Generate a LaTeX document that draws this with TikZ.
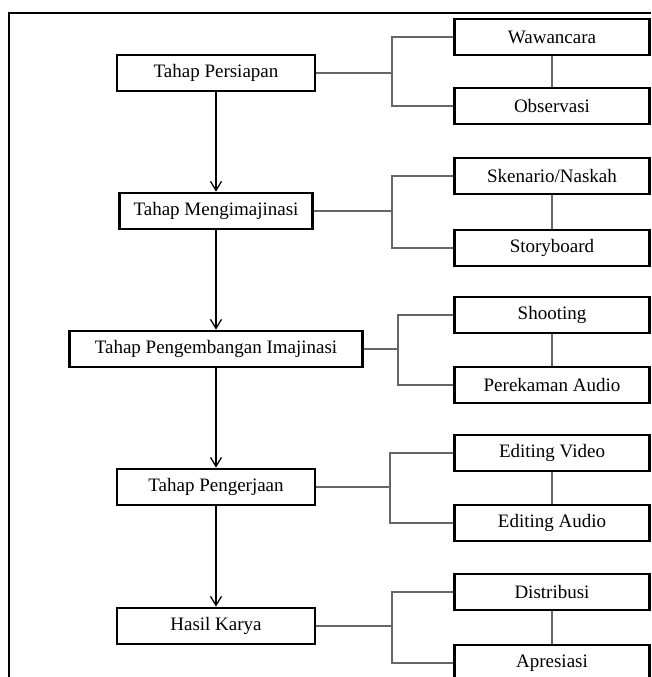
\documentclass[tikz,border=0pt]{standalone}
\usepackage{fontspec}
\setmainfont{Liberation Serif}
\usetikzlibrary{arrows.meta}

\tikzstyle{stage} = [rectangle, draw, line width=2.8pt, minimum width=198pt, minimum height=36pt,
align=center, inner sep=0pt, font=\fontsize{19}{22}\selectfont]
\tikzstyle{activity} = [rectangle, draw, line width=2.8pt, minimum width=195pt, minimum height=36pt,
align=center, inner sep=0pt, font=\fontsize{19}{22}\selectfont]
\tikzstyle{line} = [draw, black!60, line width=1.5pt]
\tikzstyle{arrow} = [draw, line width=1.3pt, -{Straight Barb[length=9pt,width=11pt]}]

\begin{document}
\begin{tikzpicture}[x=1pt,y=-1pt]
\useasboundingbox (0,0) rectangle (651,677);

% Frame
\draw[line width=1.8pt] (9,677) -- (9,13) -- (651,13);

% Stages
\node[stage](persiapan) at (216,73) {Tahap Persiapan};
\node[stage, minimum width=193pt](imajinasi) at (216,211) {Tahap Mengimajinasi};
\node[stage, minimum width=293pt](pengembangan) at (216,349) {Tahap Pengembangan Imajinasi};
\node[stage](pengerjaan) at (216,487) {Tahap Pengerjaan};
\node[stage](hasil) at (216,626) {Hasil Karya};

% Activities
\node[activity](wawancara) at (552,37) {Wawancara};
\node[activity](observasi) at (552,106) {Observasi};
\node[activity](skenario) at (552,176) {Skenario/Naskah};
\node[activity](storyboard) at (552,248) {Storyboard};
\node[activity](shooting) at (552,315) {Shooting};
\node[activity](perekaman) at (552,385) {Perekaman Audio};
\node[activity](editvideo) at (552,453) {Editing Video};
\node[activity](editaudio) at (552,523) {Editing Audio};
\node[activity](distribusi) at (552,592) {Distribusi};
\node[activity](apresiasi) at (552,663) {Apresiasi};

% Bracket points
\coordinate (b1) at (392,73);
\coordinate (b2) at (392,211);
\coordinate (b3) at (398,349);
\coordinate (b4) at (390,487);
\coordinate (b5) at (392,626);

% Brackets
\path[line] (persiapan) -- (b1);
\path[line] (wawancara.west) -| (b1) |- (observasi.west);
\path[line] (wawancara) -- (observasi);
\path[line] (imajinasi) -- (b2);
\path[line] (skenario.west) -| (b2) |- (storyboard.west);
\path[line] (skenario) -- (storyboard);
\path[line] (pengembangan) -- (b3);
\path[line] (shooting.west) -| (b3) |- (perekaman.west);
\path[line] (shooting) -- (perekaman);
\path[line] (pengerjaan) -- (b4);
\path[line] (editvideo.west) -| (b4) |- (editaudio.west);
\path[line] (editvideo) -- (editaudio);
\path[line] (hasil) -- (b5);
\path[line] (distribusi.west) -| (b5) |- (apresiasi.west);
\path[line] (distribusi) -- (apresiasi);

% Flow
\path[arrow] (persiapan) -- (imajinasi);
\path[arrow] (imajinasi) -- (pengembangan);
\path[arrow] (pengembangan) -- (pengerjaan);
\path[arrow] (pengerjaan) -- (hasil);
\end{tikzpicture}
\end{document}
